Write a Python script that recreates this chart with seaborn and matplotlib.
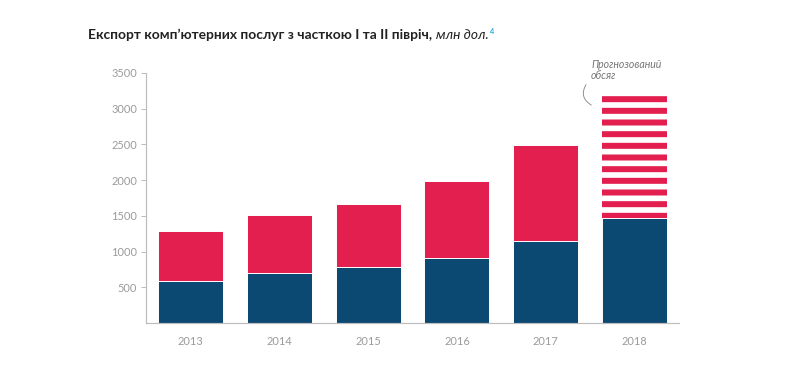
import seaborn as sns
import matplotlib.pyplot as plt
import pandas as pd

# дані (млн дол.)
years = ['2013', '2014', '2015', '2016', '2017', '2018']
first_half = [590, 700, 785, 910, 1150, 1475]
total = [1290, 1510, 1665, 1985, 2490, 3200]
yticks = [500, 1000, 1500, 2000, 2500, 3000, 3500]

df = pd.DataFrame({'year': years, 'first': first_half, 'total': total})

RED = '#e31f4f'
BLUE = '#0b4872'
GREY = '#9a9a9a'

DPI = 70
S = 72 / DPI  # пікселі -> пункти

sns.set_style('white')
plt.rcParams['font.family'] = ['Lato', 'DejaVu Sans']
plt.rcParams['hatch.linewidth'] = 6.0 * S

fig = plt.figure(figsize=(792 / DPI, 366 / DPI), dpi=DPI)
ax = fig.add_axes([146 / 792, 1 - 323 / 366, (679 - 146) / 792, (323 - 73) / 366])

# весь рік (червоний), потім I півріччя (синій) поверх
sns.barplot(data=df, x='year', y='total', color=RED, width=0.73, saturation=1, ax=ax)
n = len(years)
# 2018 - прогноз, смугастий
p = ax.patches[n - 1]
p.set_facecolor('white')
p.set_edgecolor(RED)
p.set_linewidth(0)
p.set_hatch('-')
sns.barplot(data=df, x='year', y='first', color=BLUE, width=0.73, saturation=1, ax=ax)

ax.set_xlim(-0.5, 5.5)
ax.set_ylim(0, 3500)
ax.set_yticks(yticks)
ax.set_xlabel('')
ax.set_ylabel('')
for s in ['top', 'right']:
    ax.spines[s].set_visible(False)
for s in ['left', 'bottom']:
    ax.spines[s].set_color('#bdbdbd')
    ax.spines[s].set_linewidth(1.2 * S)
ax.tick_params(axis='y', length=5 * S, width=1 * S, color='#bdbdbd', labelcolor=GREY,
               labelsize=11 * S, pad=4 * S, left=True)
ax.tick_params(axis='x', length=0, labelcolor=GREY, labelsize=11 * S, pad=13 * S)

# заголовок
t1 = fig.text(88 / 792, 1 - 35 / 366, 'Експорт комп’ютерних послуг з часткою І та ІІ півріч, ',
              fontsize=13.8 * S, fontweight='bold', color='#222222', va='center', ha='left')
fig.canvas.draw()
r = fig.canvas.get_renderer()
bb = t1.get_window_extent(r)
t2 = fig.text(bb.x1 / 792, 1 - 35 / 366, 'млн дол.', fontsize=13.8 * S, fontstyle='italic',
              color='#222222', va='center', ha='left')
bb2 = t2.get_window_extent(r)
fig.text((bb2.x1 + 1) / 792, 1 - 31 / 366, '4', fontsize=7.5 * S, color='#2aa7df',
         fontweight='bold', va='center', ha='left')

# підпис прогнозу
fig.text(591 / 792, 1 - 70 / 366, 'Прогнозований\nобсяг', fontsize=10.5 * S, fontstyle='italic',
         color='#777777', va='center', ha='left', linespacing=1.1)
ax.annotate('', xy=(593, 366 - 106), xycoords='figure pixels',
            xytext=(587, 366 - 83), textcoords='figure pixels',
            arrowprops=dict(arrowstyle='-', color='#888888', lw=0.9 * S,
                            connectionstyle='arc3,rad=0.55'))

fig.savefig('out.png', dpi=DPI)
